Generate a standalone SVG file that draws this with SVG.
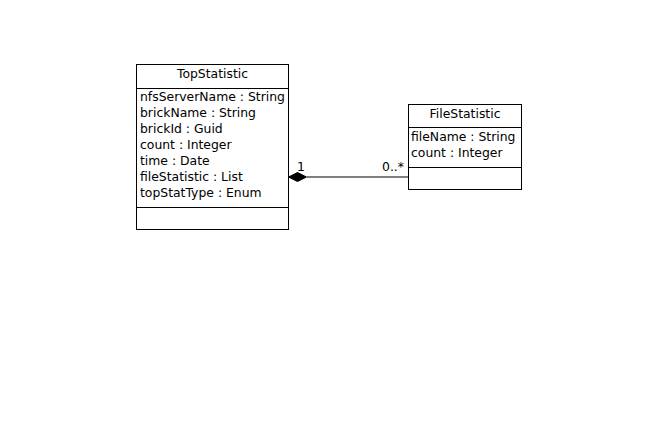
<svg xmlns="http://www.w3.org/2000/svg" width="657" height="437" viewBox="0 0 657 437">
<style>
.box{fill:#fff;stroke:#000;stroke-width:1}
.ln{stroke:#000;stroke-width:1;fill:none}
text{font-family:"DejaVu Sans",sans-serif;font-size:12.4px;fill:#000}
.t{text-anchor:middle}
</style>
<rect width="657" height="437" fill="#fff"/>
<g id="TopStatistic">
<rect class="box" x="136.5" y="64.5" width="152" height="165"/>
<line class="ln" x1="136.5" y1="88.5" x2="288.5" y2="88.5"/>
<line class="ln" x1="136.5" y1="207.5" x2="288.5" y2="207.5"/>
<text class="t" x="212.5" y="78">TopStatistic</text>
<text x="140" y="101">nfsServerName : String</text>
<text x="140" y="117">brickName : String</text>
<text x="140" y="133">brickId : Guid</text>
<text x="140" y="149">count : Integer</text>
<text x="140" y="165">time : Date</text>
<text x="140" y="181">fileStatistic : List</text>
<text x="140" y="197">topStatType : Enum</text>
</g>
<g id="FileStatistic">
<rect class="box" x="408.5" y="104.5" width="113" height="85"/>
<line class="ln" x1="408.5" y1="127.5" x2="521.5" y2="127.5"/>
<line class="ln" x1="408.5" y1="167.5" x2="521.5" y2="167.5"/>
<text class="t" x="465" y="118">FileStatistic</text>
<text x="411" y="140.5">fileName : String</text>
<text x="411" y="156.5">count : Integer</text>
</g>
<g id="connectors">
<line class="ln" x1="307" y1="177" x2="408" y2="177"/>
<polygon points="288.5,177 297.5,172.5 306.5,177 297.5,181.5" fill="#000" stroke="#000"/>
<text x="297" y="171">1</text>
<text x="382" y="171">0..*</text>
</g>
</svg>
